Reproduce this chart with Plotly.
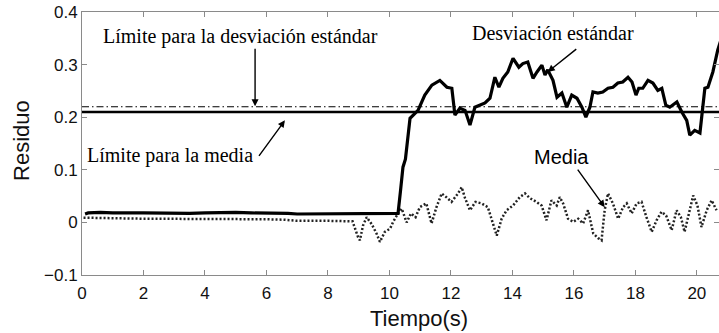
import plotly.graph_objects as go

# Residual signals over time (s)
std_t = [0.1, 0.2, 0.6, 1.0, 2.0, 3.0, 3.5, 4.0, 4.5, 5.0, 5.5, 6.0, 6.7, 7.0, 8.0, 9.0, 10.0, 10.28,
         10.36, 10.44, 10.52, 10.6, 10.67, 10.93, 11.15, 11.38, 11.64, 11.87, 12.03, 12.13, 12.29,
         12.46, 12.62, 12.78, 12.94, 13.11, 13.27, 13.43, 13.56, 13.69, 13.85, 14.02, 14.21, 14.34,
         14.50, 14.67, 14.80, 14.96, 15.06, 15.15, 15.32, 15.45, 15.61, 15.77, 15.93, 16.10, 16.26,
         16.39, 16.52, 16.62, 16.78, 16.94, 17.11, 17.27, 17.43, 17.59, 17.76, 17.89, 18.02, 18.11,
         18.24, 18.41, 18.57, 18.73, 18.86, 18.99, 19.12, 19.35, 19.51, 19.67, 19.77, 19.93, 20.10,
         20.26, 20.36, 20.52, 20.68, 20.8]
std_v = [0.016, 0.018, 0.019, 0.018, 0.018, 0.017, 0.017, 0.018, 0.019, 0.019, 0.018, 0.018, 0.017,
         0.016, 0.016, 0.016, 0.016, 0.017,
         0.06, 0.105, 0.12, 0.17, 0.198, 0.213, 0.242, 0.261, 0.270, 0.257, 0.255, 0.204, 0.217,
         0.213, 0.185, 0.219, 0.223, 0.227, 0.236, 0.276, 0.257, 0.274, 0.286, 0.312, 0.295, 0.302,
         0.305, 0.274, 0.286, 0.299, 0.280, 0.290, 0.270, 0.238, 0.246, 0.219, 0.242, 0.236, 0.219,
         0.200, 0.219, 0.248, 0.246, 0.248, 0.255, 0.257, 0.265, 0.267, 0.276, 0.267, 0.242, 0.255,
         0.255, 0.270, 0.265, 0.251, 0.255, 0.223, 0.219, 0.229, 0.210, 0.194, 0.166, 0.175, 0.170,
         0.255, 0.257, 0.286, 0.328, 0.35]

mean_t = [0.05, 0.5, 1.0, 2.0, 3.0, 4.0, 5.0, 6.0, 6.6, 7.0, 8.0, 8.8,
          8.98, 9.04, 9.14, 9.26, 9.42, 9.58, 9.69, 9.85, 10.02, 10.12, 10.28, 10.40, 10.56, 10.70,
          10.85, 10.99, 11.20, 11.37, 11.53, 11.70, 11.85, 12.02, 12.23, 12.35, 12.46, 12.62, 12.80,
          13.00, 13.20, 13.49, 13.65, 13.81, 14.02, 14.24, 14.41, 14.57, 14.78, 14.95, 15.11, 15.27,
          15.44, 15.54, 15.65, 15.81, 15.98, 16.14, 16.30, 16.46, 16.63, 16.79, 16.90, 17.00, 17.11,
          17.27, 17.44, 17.60, 17.72, 17.88, 18.04, 18.20, 18.36, 18.53, 18.69, 18.85, 19.00, 19.18,
          19.34, 19.48, 19.60, 19.75, 19.88, 20.02, 20.15, 20.32, 20.48, 20.64]
mean_v = [0.009, 0.009, 0.008, 0.007, 0.007, 0.006, 0.006, 0.006, 0.005, 0.003, 0.003, 0.002,
          -0.028, -0.034, -0.006, 0.010, -0.003, -0.021, -0.037, -0.018, -0.012, 0.001, 0.017, 0.026,
          0.000, 0.017, 0.010, 0.029, 0.036, -0.002, 0.029, 0.055, 0.048, 0.039, 0.055, 0.067, 0.046,
          0.023, 0.039, 0.036, 0.029, -0.025, 0.007, 0.023, 0.032, 0.048, 0.055, 0.046, 0.039, 0.032,
          0.004, 0.042, 0.032, 0.048, 0.036, 0.007, 0.001, 0.007, -0.002, 0.023, -0.021, -0.030,
          -0.034, 0.023, 0.055, 0.036, 0.007, 0.029, 0.036, 0.017, 0.036, 0.039, 0.010, -0.018, 0.004,
          0.020, 0.013, -0.015, 0.023, 0.010, -0.018, 0.017, 0.051, 0.032, -0.009, 0.023, 0.042, 0.023]

limit_mean = 0.21
limit_std = 0.22
x_span = [0, 20.8]

x_ticks = [0, 2, 4, 6, 8, 10, 12, 14, 16, 18, 20]
y_ticks = [-0.1, 0, 0.1, 0.2, 0.3, 0.4]
y_tick_text = ["\u22120.1", "0", "0.1", "0.2", "0.3", "0.4"]

SERIF = "Liberation Serif"
SANS = "Liberation Sans"

fig = go.Figure()
fig.add_trace(go.Scatter(x=x_span, y=[limit_std] * 2, mode="lines",
                         line=dict(color="black", width=1.1, dash="7px,3px,1.5px,3px")))
fig.add_trace(go.Scatter(x=x_span, y=[limit_mean] * 2, mode="lines",
                         line=dict(color="black", width=2.5)))
fig.add_trace(go.Scatter(x=mean_t, y=mean_v, mode="lines",
                         line=dict(color="#222222", width=2.5, dash="2px,2px")))
fig.add_trace(go.Scatter(x=std_t, y=std_v, mode="lines",
                         line=dict(color="black", width=3.2)))

# Text labels
labels = [
    ("Límite para la desviación estándar", 5.17, 0.354, SERIF),
    ("Límite para la media", 2.86, 0.128, SERIF),
    ("Desviación estándar", 15.32, 0.36, SERIF),
    ("Media", 15.61, 0.124, SANS),
]
for txt, x, y, fam in labels:
    fig.add_annotation(x=x, y=y, text=txt, showarrow=False, xanchor="center", yanchor="middle",
                       font=dict(family=fam, size=20, color="black"))

# Pointer arrows (head at x, y; tail offset in pixels)
arrows = [(5.63, 0.221, 0, -59), (6.6, 0.194, -27, 37), (15.15, 0.286, 30, -24), (17.0, 0.029, -28, -39)]
for x, y, ax, ay in arrows:
    fig.add_annotation(x=x, y=y, ax=ax, ay=ay, text="", showarrow=True, arrowhead=2,
                       arrowsize=1, arrowwidth=1.4, arrowcolor="black")

fig.add_annotation(xref="paper", yref="paper", x=-0.094, y=0.51, text="Residuo", textangle=-90,
                   showarrow=False, xanchor="center", yanchor="middle",
                   font=dict(family=SANS, size=22, color="#111"))
fig.add_annotation(xref="paper", yref="paper", x=0.529, y=-0.167, text="Tiempo(s)",
                   showarrow=False, xanchor="center", yanchor="middle",
                   font=dict(family=SANS, size=22, color="#111"))

axis_common = dict(showgrid=False, zeroline=False, showline=True, linecolor="#8a8a8a", linewidth=1,
                   ticks="inside", ticklen=5, tickcolor="#8a8a8a", mirror="ticks",
                   tickfont=dict(family=SANS, size=17, color="#111"))
fig.update_xaxes(range=[0, 20.72], tickvals=x_ticks, ticklabelstandoff=3, **axis_common)
fig.update_yaxes(range=[-0.1, 0.4], tickvals=y_ticks, ticktext=y_tick_text, **axis_common)

fig.update_layout(width=719, height=333, margin=dict(l=82, r=0, t=12, b=58),
                  paper_bgcolor="white", plot_bgcolor="white", showlegend=False)

fig.write_html("out.html")
